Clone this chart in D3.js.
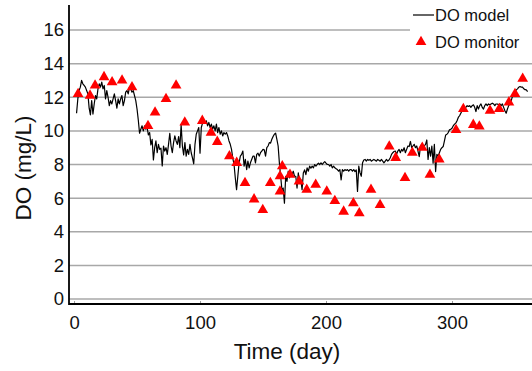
<!DOCTYPE html>
<html>
<head>
<meta charset="utf-8">
<script src="https://cdn.jsdelivr.net/npm/d3@7"></script>
<style>
  html, body { margin: 0; padding: 0; background: #fff; }
  svg { display: block; font-family: Arial, "Liberation Sans", sans-serif; }
</style>
</head>
<body>
<svg id="chart" width="532" height="371"></svg>
<script>
// ---------------- data ----------------
const yTicks = [0, 2, 4, 6, 8, 10, 12, 14, 16];
const xTicks = [0, 100, 200, 300];

// model: daily values starting at day 2
const modelStartDay = 2;
const modelValues = [
  11.05, 11.9, 12.4, 12.6, 13.0, 12.8, 12.7, 12.6, 12.4, 12.2,      // 2-11
  11.35, 10.95, 11.8, 11.0, 11.6, 12.1, 11.9, 12.5, 12.8, 12.6,     // 12-21
  12.9, 12.5, 12.7, 11.9, 12.4, 12.0, 11.5, 11.8, 11.6, 11.9,       // 22-31
  12.2, 11.8, 11.35, 11.9, 11.6, 11.9, 12.1, 11.5, 11.8, 12.3,      // 32-41
  12.4, 12.2, 12.6, 12.5, 12.3, 12.4, 12.1, 11.8, 11.3, 10.65,      // 42-51
  9.86, 10.1, 10.3, 10.0, 10.3, 10.1, 10.2, 9.76, 9.9, 9.17,        // 52-61
  9.5, 8.27, 9.0, 9.4, 8.7, 9.2, 8.9, 8.97, 7.92, 9.1,              // 62-71
  8.8, 9.0, 8.6, 9.2, 9.86, 9.1, 8.7, 9.3, 9.7, 9.4,                // 72-81
  9.2, 9.66, 9.0, 10.36, 9.1, 8.57, 9.3, 8.5, 8.9, 8.6,             // 82-91
  9.2, 8.7, 8.4, 8.04, 9.2, 9.8, 10.0, 10.2, 8.67, 10.2,            // 92-101
  10.46, 10.65, 10.46, 10.6, 10.3, 10.5, 10.2, 10.4, 10.1, 10.3,    // 102-111
  10.0, 10.4, 9.9, 10.2, 9.8, 10.0, 9.7, 9.9, 9.8, 9.9,             // 112-121
  9.7, 9.4, 9.2, 8.9, 8.38, 8.0, 7.2, 6.5, 7.3, 8.1,                // 122-131
  8.5, 8.6, 8.8, 7.9, 8.3, 7.7, 8.2, 7.8, 8.1, 8.3,                 // 132-141
  8.5, 8.5, 8.1, 8.6, 8.67, 8.5, 8.7, 8.8, 8.9, 8.87,               // 142-151
  8.5, 9.0, 9.1, 9.3, 9.27, 9.5, 9.66, 9.8, 9.86, 9.5,              // 152-161
  9.1, 8.08, 7.3, 6.5, 6.6, 5.7, 7.3, 7.0, 7.6, 7.2,                // 162-171
  7.5, 7.4, 7.6, 7.3, 7.3, 6.6, 7.5, 6.9, 7.1, 6.5,                 // 172-181
  7.5, 7.68, 7.4, 7.8, 7.6, 7.9, 7.78, 7.9, 7.8, 8.0,               // 182-191
  7.9, 8.0, 8.08, 8.0, 8.1, 8.0, 8.1, 8.17, 8.08, 8.0,              // 192-201
  8.0, 7.9, 8.0, 7.8, 7.9, 7.8, 7.75, 7.7, 7.6, 7.7,                // 202-211
  7.08, 7.7, 7.6, 7.7, 7.65, 7.7, 7.6, 7.7, 7.7, 7.6,               // 212-221
  7.7, 7.58, 7.68, 6.4, 7.9, 7.5, 7.3, 8.1, 8.27, 8.3,              // 222-231
  8.2, 8.3, 8.25, 8.3, 8.2, 8.25, 8.3, 8.25, 8.2, 8.3,              // 232-241
  8.25, 8.2, 8.3, 8.2, 8.1, 8.2, 8.3, 8.2, 8.27, 8.4,               // 242-251
  8.6, 8.7, 8.77, 8.8, 8.6, 8.8, 8.9, 8.7, 8.9, 8.8,                // 252-261
  9.0, 8.7, 8.9, 9.1, 9.07, 9.37, 9.0, 9.1, 9.2, 9.0,               // 262-271
  9.1, 8.8, 8.47, 9.1, 9.2, 9.0, 9.1, 9.2, 9.46, 8.3,               // 272-281
  9.0, 8.5, 9.1, 8.08, 9.2, 7.58, 8.6, 8.5, 8.7, 8.9,               // 282-291
  9.0, 9.07, 9.4, 9.76, 9.8, 9.9, 10.06, 10.1, 10.16, 10.3,         // 292-301
  10.4, 10.46, 10.6, 10.8, 10.9, 11.05, 11.2, 11.3, 11.35, 11.4,    // 302-311
  11.5, 11.45, 11.5, 11.4, 11.5, 11.55, 11.4, 11.15, 11.5, 11.3,    // 312-321
  11.5, 11.6, 11.4, 11.3, 11.5, 11.6, 11.5, 11.6, 11.55, 11.6,      // 322-331
  11.65, 11.6, 11.5, 11.6, 11.6, 11.55, 11.6, 11.5, 11.6, 11.4,     // 332-341
  11.2, 11.05, 11.3, 11.5, 11.6, 11.8, 12.05, 12.2, 12.3, 12.44,    // 342-351
  12.5, 12.6, 12.64, 12.6, 12.6, 12.5, 12.45, 12.44, 12.34          // 352-360
];

// monitor observations
const monitorDays = [
  3.2, 12.7, 16.7, 23.8, 30.2, 38.1, 46, 58.7, 64.3, 73, 81, 87.9,
  101.8, 108.7, 113.7, 123.3, 129.1, 135.7, 142.9, 149.8, 155.8, 163.5,
  163.5, 165.3, 171.4, 178.6, 184.7, 191.8, 200.6, 207, 214, 221.7,
  226.4, 235.7, 242.9, 250.2, 255.3, 262.7, 268.5, 276.4, 282.5, 289.9,
  303.2, 309, 316.9, 321.7, 330.2, 337.5, 345.2, 350, 356.1
];
const monitorValues = [
  12.2, 12.1, 12.7, 13.2, 12.9, 13.0, 12.6, 10.3, 11.1, 11.9, 12.7, 10.5,
  10.6, 9.9, 9.35, 8.5, 8.1, 6.9, 5.93, 5.3, 6.9, 6.4,
  7.3, 7.9, 7.4, 7.0, 6.5, 6.8, 6.4, 5.83, 5.2, 5.7,
  5.1, 6.5, 5.6, 9.07, 8.4, 7.2, 8.7, 9.0, 7.4, 8.3,
  10.06, 11.3, 10.36, 10.26, 11.2, 11.3, 11.7, 12.2, 13.1
];

const legendLabels = ["DO model", "DO monitor"];
const xTitle = "Time (day)";
const yTitle = "DO (mg/L)";

// ---------------- drawing ----------------
const svg = d3.select("#chart");
const x = d3.scaleLinear().domain([-4, 363.5]).range([69, 532]);
const y = d3.scaleLinear().domain([0, 16]).range([299, 30]);

// gridlines
svg.append("g").selectAll("line").data(yTicks).join("line")
  .attr("x1", 69).attr("x2", 532)
  .attr("y1", d => y(d)).attr("y2", d => y(d))
  .attr("stroke", "#a8a8a8").attr("stroke-width", 1.5);

// y tick labels
svg.append("g").selectAll("text").data(yTicks).join("text")
  .attr("x", 64).attr("y", d => y(d))
  .attr("dy", "0.35em")
  .attr("text-anchor", "end")
  .attr("font-size", 18.5).attr("fill", "#111")
  .text(d => d);

// x axis
const xAxis = d3.axisBottom(x).tickValues(xTicks).tickSize(0).tickPadding(12);
const gx = svg.append("g").attr("transform", "translate(0,304)").call(xAxis);
gx.select(".domain").remove();
gx.selectAll("text").attr("font-size", 18.5).attr("fill", "#111")
  .attr("font-family", "Arial, 'Liberation Sans', sans-serif");
gx.selectAll(".tick").append("line")
  .attr("y1", 0).attr("y2", -3).attr("stroke", "#999").attr("stroke-width", 1);

// axis lines
svg.append("line").attr("x1", 69).attr("x2", 532).attr("y1", 304).attr("y2", 304)
  .attr("stroke", "#000").attr("stroke-width", 1.8);
svg.append("line").attr("x1", 69).attr("x2", 69).attr("y1", 5).attr("y2", 305)
  .attr("stroke", "#000").attr("stroke-width", 1.8);

// model line
const modelData = modelValues.map((v, i) => [modelStartDay + i, v]);
svg.append("path").datum(modelData)
  .attr("fill", "none").attr("stroke", "#000").attr("stroke-width", 1.2)
  .attr("stroke-linejoin", "round")
  .attr("d", d3.line().x(d => x(d[0])).y(d => y(d[1])));

// monitor points
const tri = d3.symbol().type(d3.symbolTriangle).size(50);
svg.append("g").selectAll("path").data(monitorDays.map((d, i) => [d, monitorValues[i]])).join("path")
  .attr("transform", d => `translate(${x(d[0])},${y(d[1])})`)
  .attr("d", tri).attr("fill", "#f00");

// legend
const lg = svg.append("g");
lg.append("rect").attr("x", 410).attr("y", 4).attr("width", 122).attr("height", 52).attr("fill", "#fff");
lg.append("line").attr("x1", 413).attr("x2", 434).attr("y1", 15).attr("y2", 15)
  .attr("stroke", "#000").attr("stroke-width", 1.2);
lg.append("text").attr("x", 435).attr("y", 21).attr("font-size", 16.5).attr("fill", "#111").text(legendLabels[0]);
lg.append("path").attr("transform", "translate(421,42)").attr("d", tri).attr("fill", "#f00");
lg.append("text").attr("x", 435).attr("y", 48).attr("font-size", 16.5).attr("fill", "#111").text(legendLabels[1]);

// titles
svg.append("text").attr("x", 287).attr("y", 359).attr("text-anchor", "middle")
  .attr("font-size", 22.5).attr("fill", "#111").text(xTitle);
svg.append("text").attr("transform", "translate(31,168) rotate(-90)").attr("text-anchor", "middle")
  .attr("font-size", 22.5).attr("fill", "#111").text(yTitle);
</script>
</body>
</html>
